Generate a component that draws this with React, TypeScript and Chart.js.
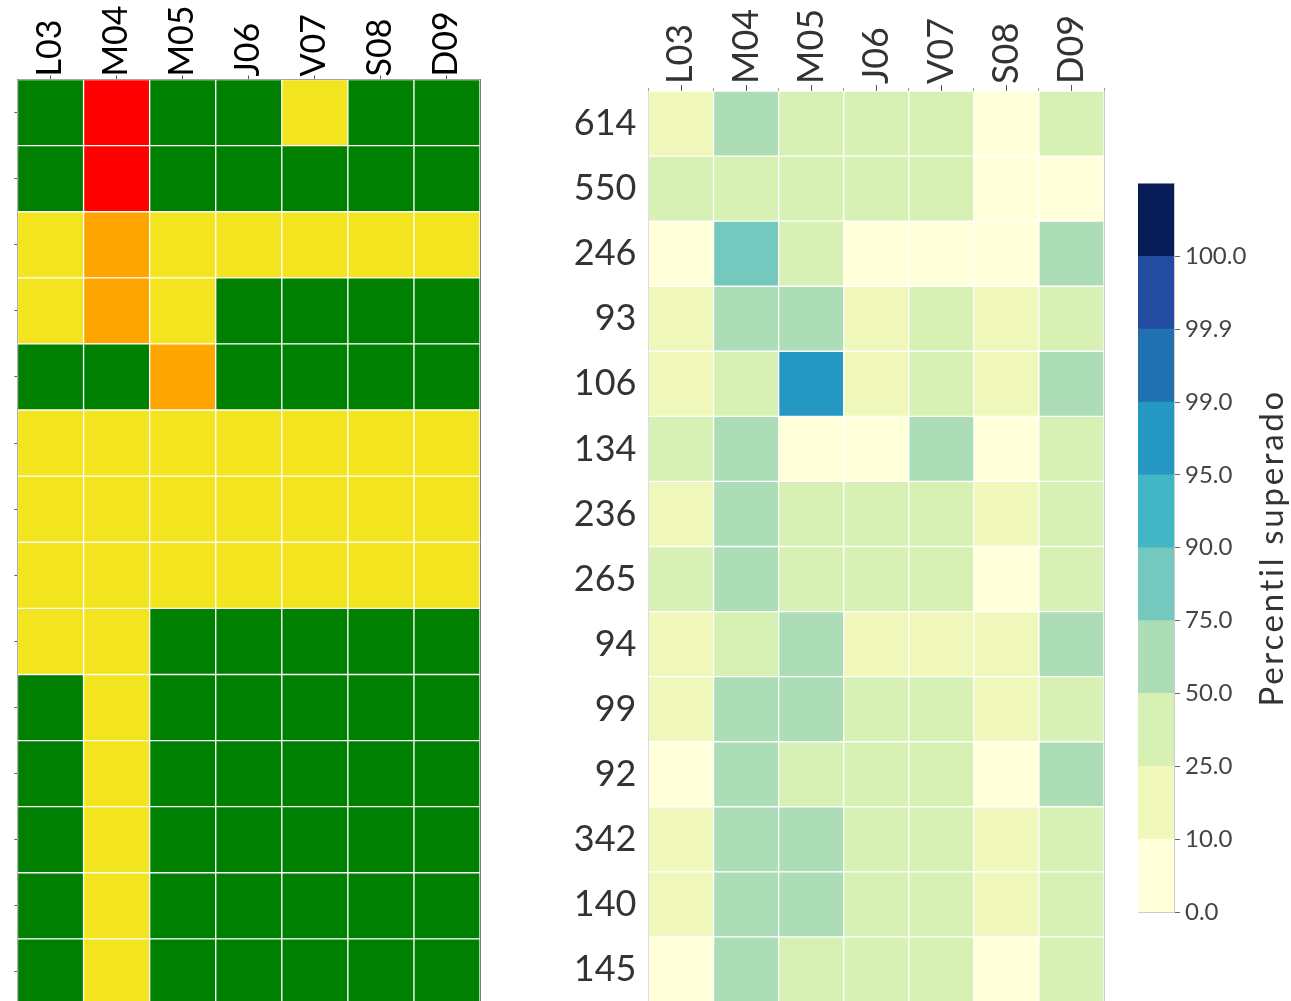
import React, { useEffect, useRef } from 'react';
import { Chart, registerables } from 'chart.js';

Chart.register(...registerables);

// ---------- data ----------
const columns = ['L03', 'M04', 'M05', 'J06', 'V07', 'S08', 'D09'];
const rowLabels = ['614', '550', '246', '93', '106', '134', '236', '265', '94', '99', '92', '342', '140', '145'];

// left heatmap: alert level per row (0 green, 1 yellow, 2 orange, 3 red)
const alertL03 = [0, 0, 1, 1, 0, 1, 1, 1, 1, 0, 0, 0, 0, 0];
const alertM04 = [3, 3, 2, 2, 0, 1, 1, 1, 1, 1, 1, 1, 1, 1];
const alertM05 = [0, 0, 1, 1, 2, 1, 1, 1, 0, 0, 0, 0, 0, 0];
const alertJ06 = [0, 0, 1, 0, 0, 1, 1, 1, 0, 0, 0, 0, 0, 0];
const alertV07 = [1, 0, 1, 0, 0, 1, 1, 1, 0, 0, 0, 0, 0, 0];
const alertS08 = [0, 0, 1, 0, 0, 1, 1, 1, 0, 0, 0, 0, 0, 0];
const alertD09 = [0, 0, 1, 0, 0, 1, 1, 1, 0, 0, 0, 0, 0, 0];
const alertColors = ['#008000', '#f2e51f', '#ffa500', '#ff0000'];

// right heatmap: exceeded percentile per row
const pctL03 = [18, 36, 6, 15, 20, 41, 14, 33, 19, 21, 7, 16, 22, 4];
const pctM04 = [63, 44, 84, 58, 39, 66, 61, 57, 47, 69, 60, 64, 67, 59];
const pctM05 = [35, 40, 31, 55, 97.5, 3, 42, 38, 62, 56, 29, 66, 61, 45];
const pctJ06 = [30, 37, 8, 17, 12, 5, 33, 45, 23, 39, 28, 36, 48, 41];
const pctV07 = [34, 29, 2, 40, 27, 71, 37, 31, 13, 26, 44, 35, 30, 38];
const pctS08 = [3, 6, 9, 11, 24, 1, 19, 8, 14, 12, 5, 21, 17, 2];
const pctD09 = [43, 4, 52, 28, 73, 32, 46, 39, 54, 35, 65, 27, 34, 26];

const bounds = [0, 10, 25, 50, 75, 90, 95, 99, 99.9, 100];
const binColors = ['#ffffd9', '#eff8ba', '#d7f0b3', '#acddb7', '#74c8bd', '#42b6c5', '#2597c3', '#2171b1', '#234ca0', '#081d58'];
const colorbarTitle = 'Percentil superado';

const FONT = 'Lato, "Open Sans", sans-serif';

function binColor(v: number): string {
  let i = 0;
  while (i < bounds.length - 1 && v >= bounds[i + 1]) i++;
  return binColors[i];
}

function noPad(s: any) {
  s.paddingTop = 0;
  s.paddingBottom = 0;
  s.paddingLeft = 0;
  s.paddingRight = 0;
}

interface HeatOpts {
  colorsByCol: string[][];
  fontSize: number;
  labelColor: string;
  spineColor: string;
  xTickColor: string;
  xTickLength: number;
  xPad: number;
  labelShift: number;
  edgeTicks: boolean;
  yTicks: boolean;
  yLabels: boolean;
  yWidth: number;
  xHeight: number;
}

function heatConfig(o: HeatOpts): any {
  const datasets = columns.map((c, ci) => ({
    label: c,
    data: rowLabels.map(() => [ci, ci + 1]),
    backgroundColor: o.colorsByCol[ci],
    borderColor: '#ffffff',
    borderWidth: 1,
    borderSkipped: false,
    grouped: false,
    barPercentage: 1,
    categoryPercentage: 1,
  }));
  const scales: any = {
    x: {
      type: 'linear',
      position: 'top',
      min: 0,
      max: columns.length,
      z: 1,
      weight: 1,
      afterBuildTicks: (s: any) => {
        s.ticks = columns.map((_, i) => ({ value: i + 0.5 }));
      },
      afterFit: (s: any) => {
        s.height = o.xHeight;
        noPad(s);
      },
      ticks: {
        autoSkip: false,
        minRotation: 90,
        maxRotation: 90,
        padding: o.xPad,
        labelOffset: o.labelShift,
        color: o.labelColor,
        font: { family: FONT, size: o.fontSize },
        callback: (_v: any, i: number) => columns[i],
      },
      grid: { drawOnChartArea: false, tickLength: o.xTickLength, tickColor: o.xTickColor, tickWidth: 1 },
      border: { display: true, color: o.spineColor, width: 1 },
    },
    y: {
      type: 'category',
      labels: rowLabels,
      position: 'left',
      offset: true,
      z: 1,
      afterFit: (s: any) => {
        s.width = o.yWidth;
        noPad(s);
      },
      ticks: {
        display: o.yLabels,
        padding: 12,
        color: o.labelColor,
        font: { family: FONT, size: o.fontSize },
      },
      grid: {
        drawOnChartArea: false,
        drawTicks: o.yTicks,
        tickLength: 3,
        offset: false,
        tickColor: o.xTickColor,
      },
      border: { display: true, color: o.spineColor, width: 1 },
    },
    yr: {
      axis: 'y',
      type: 'linear',
      position: 'right',
      z: 1,
      afterFit: (s: any) => {
        s.width = 1;
        noPad(s);
      },
      ticks: { display: false },
      grid: { display: false, drawTicks: false },
      border: { display: true, color: o.spineColor, width: 1 },
    },
  };
  if (o.edgeTicks) {
    scales.x2 = {
      axis: 'x',
      type: 'linear',
      position: 'top',
      min: 0,
      max: columns.length,
      z: 1,
      weight: 0,
      afterBuildTicks: (s: any) => {
        s.ticks = [0, 1, 2, 3, 4, 5, 6, 7].map((v) => ({ value: v }));
      },
      afterFit: (s: any) => {
        s.height = 0;
        noPad(s);
      },
      ticks: { display: false },
      grid: { drawOnChartArea: false, tickLength: 3, tickColor: '#9a9a9a', tickWidth: 1 },
      border: { display: false },
    };
  }
  return {
    type: 'bar',
    data: { labels: rowLabels, datasets },
    options: {
      indexAxis: 'y',
      responsive: false,
      maintainAspectRatio: false,
      animation: false,
      layout: { padding: 0 },
      plugins: { legend: { display: false }, tooltip: { enabled: false } },
      scales,
    },
  };
}

function leftConfig() {
  const levels = [alertL03, alertM04, alertM05, alertJ06, alertV07, alertS08, alertD09];
  return heatConfig({
    colorsByCol: levels.map((col) => col.map((l) => alertColors[l])),
    fontSize: 34,
    labelColor: '#000000',
    spineColor: '#808080',
    xTickColor: '#555555',
    xTickLength: 4,
    xPad: -1,
    labelShift: 40,
    edgeTicks: false,
    yTicks: true,
    yLabels: false,
    yWidth: 17.5,
    xHeight: 79.5,
  });
}

function rightConfig() {
  const pcts = [pctL03, pctM04, pctM05, pctJ06, pctV07, pctS08, pctD09];
  return heatConfig({
    colorsByCol: pcts.map((col) => col.map(binColor)),
    fontSize: 36,
    labelColor: '#333333',
    spineColor: '#cccccc',
    xTickColor: '#555555',
    xTickLength: 6,
    xPad: 1,
    labelShift: 43,
    edgeTicks: true,
    yTicks: false,
    yLabels: true,
    yWidth: 108.5,
    xHeight: 91,
  });
}

const titlePlugin = {
  id: 'cbTitle',
  afterDraw(chart: any) {
    const { ctx, chartArea } = chart;
    ctx.save();
    ctx.translate(chartArea.right + 98, (chartArea.top + chartArea.bottom) / 2);
    ctx.rotate(-Math.PI / 2);
    ctx.font = `33px ${FONT}`;
    try {
      ctx.letterSpacing = '2.7px';
    } catch (e) {
      /* ignore */
    }
    ctx.fillStyle = '#333333';
    ctx.textAlign = 'center';
    ctx.textBaseline = 'middle';
    ctx.fillText(colorbarTitle, 0, 0);
    ctx.restore();
  },
};

function colorbarConfig(): any {
  const datasets = binColors.map((c, i) => ({
    label: String(i),
    data: [[i, i + 1]],
    backgroundColor: c,
    borderWidth: 0,
    grouped: false,
    barPercentage: 1,
    categoryPercentage: 1,
  }));
  const edge = '#cccccc';
  return {
    type: 'bar',
    data: { labels: [''], datasets },
    options: {
      responsive: false,
      maintainAspectRatio: false,
      animation: false,
      layout: { padding: 0 },
      plugins: { legend: { display: false }, tooltip: { enabled: false } },
      scales: {
        x: {
          type: 'category',
          position: 'bottom',
          z: 1,
          afterFit: (s: any) => {
            s.height = 28;
            noPad(s);
          },
          ticks: { display: false },
          grid: { display: false, drawTicks: false },
          border: { display: true, color: edge },
        },
        xt: {
          axis: 'x',
          type: 'linear',
          position: 'top',
          z: 1,
          afterFit: (s: any) => {
            s.height = 33.5;
            noPad(s);
          },
          ticks: { display: false },
          grid: { display: false, drawTicks: false },
          border: { display: true, color: edge },
        },
        yl: {
          axis: 'y',
          type: 'linear',
          position: 'left',
          z: 1,
          afterFit: (s: any) => {
            s.width = 38;
            noPad(s);
          },
          ticks: { display: false },
          grid: { display: false, drawTicks: false },
          border: { display: true, color: edge },
        },
        y: {
          type: 'linear',
          position: 'right',
          min: 0,
          max: binColors.length,
          z: 1,
          afterBuildTicks: (s: any) => {
            s.ticks = bounds.map((_, i) => ({ value: i }));
          },
          afterFit: (s: any) => {
            s.width = 117;
            noPad(s);
          },
          ticks: {
            autoSkip: false,
            padding: 5,
            color: '#444444',
            font: { family: FONT, size: 24 },
            callback: (_v: any, i: number) => bounds[i].toFixed(1),
          },
          grid: { drawOnChartArea: false, tickLength: 6, tickColor: '#666666', tickWidth: 1 },
          border: { display: true, color: edge },
        },
      },
    },
    plugins: [titlePlugin],
  };
}

export default function App() {
  const leftRef = useRef<HTMLCanvasElement>(null);
  const rightRef = useRef<HTMLCanvasElement>(null);
  const barRef = useRef<HTMLCanvasElement>(null);

  useEffect(() => {
    const charts = [
      new Chart(leftRef.current as HTMLCanvasElement, leftConfig()),
      new Chart(rightRef.current as HTMLCanvasElement, rightConfig()),
      new Chart(barRef.current as HTMLCanvasElement, colorbarConfig()),
    ];
    return () => charts.forEach((c) => c.destroy());
  }, []);

  return (
    <div
      style={{
        position: 'absolute',
        left: 0,
        top: 0,
        width: 1291,
        height: 1001,
        overflow: 'hidden',
        background: '#ffffff',
      }}
    >
      <canvas ref={leftRef} width={481} height={1005} style={{ position: 'absolute', left: 0, top: 0 }} />
      <canvas ref={rightRef} width={565} height={1002} style={{ position: 'absolute', left: 540, top: 0 }} />
      <canvas ref={barRef} width={191} height={790} style={{ position: 'absolute', left: 1100, top: 150 }} />
    </div>
  );
}
